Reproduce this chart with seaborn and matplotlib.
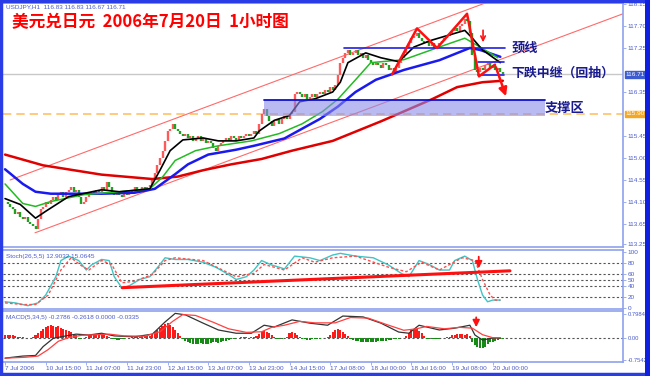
import numpy as np
import matplotlib
matplotlib.use("Agg")
import matplotlib.pyplot as plt
from matplotlib.patches import Rectangle
import seaborn as sns

# ===================== price data (USDJPY H1 closes) =====================
closes = [
    114.1, 114.05, 114.0, 113.95, 113.85, 113.9, 113.8, 113.75, 113.8, 113.7, 113.65, 113.6, 113.55,
    113.75, 113.95, 114.0, 114.1, 114.05, 114.15, 114.2, 114.15, 114.25, 114.3, 114.2, 114.3,
    114.35, 114.4, 114.3, 114.35, 114.2, 114.05, 114.1, 114.2, 114.25, 114.3, 114.25, 114.35, 114.3, 114.4, 114.35, 114.5,
    114.4, 114.3, 114.25, 114.3, 114.25, 114.2, 114.3, 114.25, 114.35, 114.3, 114.4, 114.35, 114.3, 114.4, 114.35, 114.4, 114.45,
    114.55, 114.7, 114.85, 115.0, 115.15, 115.35, 115.55, 115.6, 115.7, 115.6, 115.55,
    115.5, 115.45, 115.5, 115.4, 115.45, 115.35, 115.4, 115.45, 115.35, 115.4, 115.3, 115.35, 115.3, 115.2, 115.15, 115.25,
    115.3, 115.35, 115.4, 115.35, 115.45, 115.4, 115.35, 115.45, 115.4, 115.45, 115.5, 115.45, 115.5, 115.55, 115.5,
    115.7, 115.9, 116.0, 115.85, 115.75, 115.65, 115.75, 115.8, 115.7, 115.8, 115.85, 115.8, 115.9, 115.95,
    116.3, 116.35, 116.3, 116.25, 116.3, 116.2, 116.25, 116.3, 116.25, 116.3, 116.35, 116.3, 116.4, 116.35, 116.45, 116.4, 116.5,
    116.7, 116.95, 117.05, 117.15, 117.2, 117.1, 117.15, 117.2, 117.1, 117.15, 117.05, 117.1, 117.0, 116.95, 116.9,
    116.95, 116.9, 116.85, 116.95, 116.9, 116.8, 116.85, 116.75, 116.85, 116.95,
    117.05, 117.15, 117.25, 117.35, 117.45, 117.5, 117.55, 117.45, 117.4, 117.35,
    117.4, 117.3, 117.35, 117.25, 117.3, 117.35, 117.4, 117.45, 117.5,
    117.55, 117.6, 117.65, 117.6, 117.7, 117.75, 117.85, 117.8, 117.55,
    117.1, 116.8, 116.75, 116.85, 116.8, 116.9, 116.95, 116.85, 116.9, 116.8, 116.85, 116.75, 116.71,
]

# moving averages (bar index, value)
ma_black_x = [0, 6, 12, 16, 25, 38, 45, 57, 61, 65, 70, 78, 84, 91, 98, 100, 106, 112, 116, 122,
              129, 132, 135, 142, 148, 155, 161, 168, 181, 184, 188, 195]
ma_black_y = [114.17, 114.05, 113.77, 113.91, 114.21, 114.35, 114.31, 114.37, 114.75, 115.15,
              115.37, 115.41, 115.35, 115.35, 115.41, 115.55, 115.77, 115.87, 116.15, 116.21,
              116.35, 116.55, 116.95, 117.15, 117.05, 116.97, 117.27, 117.41, 117.61, 117.45, 117.21, 116.95]
ma_green_x = [0, 7, 12, 18, 31, 45, 57, 62, 67, 75, 84, 97, 108, 117, 125, 131, 138, 144, 157, 171, 181, 187, 194]
ma_green_y = [114.47, 114.07, 114.01, 114.11, 114.25, 114.31, 114.37, 114.61, 114.95, 115.15, 115.25, 115.35,
              115.5, 115.7, 115.95, 116.2, 116.6, 116.95, 117.01, 117.27, 117.45, 117.27, 117.05]
ma_blue_x = [0, 7, 12, 18, 38, 51, 59, 67, 72, 80, 91, 98, 110, 124, 131, 138, 146, 157, 171, 183, 187, 195]
ma_blue_y = [114.77, 114.47, 114.31, 114.27, 114.27, 114.29, 114.37, 114.67, 114.87, 115.07, 115.17, 115.25,
             115.4, 115.8, 116.05, 116.35, 116.6, 116.8, 117.0, 117.25, 117.21, 117.07]
ma_red_x = [0, 15, 38, 58, 68, 78, 89, 101, 113, 129, 148, 168, 178, 188, 196]
ma_red_y = [115.07, 114.85, 114.66, 114.57, 114.62, 114.75, 114.87, 114.98, 115.15, 115.35, 115.75,
            116.2, 116.45, 116.55, 116.58]

# stochastic (26,5,5)
stoch_x = [0, 4, 9, 13, 16, 20, 22, 25, 29, 32, 34, 38, 41, 43, 46, 49, 53, 57, 61, 63, 67, 72, 78, 83, 88,
           91, 95, 98, 101, 105, 108, 110, 114, 120, 124, 129, 132, 138, 145, 151, 156, 159, 163, 167, 171,
           175, 177, 181, 184, 186, 188, 190, 192, 195]
stoch_main = [11, 9, 4, 9, 23, 56, 85, 93, 85, 68, 77, 87, 85, 56, 36, 40, 51, 56, 78, 90, 87, 87, 82, 73, 60,
              51, 56, 68, 85, 77, 73, 70, 93, 90, 85, 95, 98, 93, 90, 77, 62, 56, 85, 78, 68,
              68, 85, 93, 85, 51, 23, 11, 14, 14]
signal_x = [0, 7, 12, 17, 22, 26, 30, 33, 38, 42, 46, 51, 58, 63, 67, 78, 91, 98, 102, 110, 117, 122, 129,
            138, 151, 158, 164, 171, 180, 185, 188, 191, 193, 195]
stoch_signal = [9, 6, 6, 23, 68, 90, 76, 68, 85, 78, 45, 48, 60, 85, 90, 85, 56, 62, 78, 68, 90, 82, 90,
                93, 73, 65, 82, 68, 90, 85, 51, 23, 14, 14]
stoch_levels = [20, 40, 50, 60, 80]

# MACD (5,34,5)
macd_x = [0, 7, 12, 15, 19, 22, 28, 33, 38, 43, 51, 58, 63, 67, 71, 78, 84, 91, 97, 102, 106, 113, 120, 127,
          133, 141, 148, 155, 159, 163, 171, 177, 183, 185, 188, 192, 195]
macd_main = [-0.69, -0.62, -0.6, -0.3, -0.02, 0.03, 0.12, 0.09, 0.15, 0.06, 0.03, 0.12, 0.53, 0.82, 0.77,
             0.49, 0.26, 0.15, 0.15, 0.42, 0.36, 0.6, 0.49, 0.42, 0.73, 0.70, 0.49, 0.19, 0.15, 0.42,
             0.26, 0.32, 0.42, 0.09, -0.08, -0.01, -0.01]
macd_sig_x = [0, 8, 13, 17, 21, 25, 30, 36, 41, 47, 55, 61, 66, 70, 75, 82, 88, 95, 101, 105, 110, 116, 122,
              130, 136, 143, 150, 157, 162, 166, 173, 179, 184, 188, 192, 195]
macd_signal = [-0.69, -0.66, -0.62, -0.4, -0.12, 0.0, 0.08, 0.1, 0.12, 0.06, 0.05, 0.2, 0.55, 0.78, 0.75,
               0.52, 0.3, 0.18, 0.2, 0.35, 0.42, 0.55, 0.5, 0.5, 0.68, 0.66, 0.45, 0.25, 0.3, 0.38,
               0.3, 0.35, 0.32, 0.1, 0.0, 0.0]
macd_hist = [
    0.1, 0.1, 0.09, 0.08, 0.06, 0.04,
    0.02, 0.01, -0.01, -0.02, -0.01, 0.02,
    0.08, 0.15, 0.22, 0.3, 0.36, 0.4, 0.42, 0.38, 0.36, 0.4, 0.33, 0.3, 0.26, 0.22, 0.18, 0.14, 0.08,
    -0.03, -0.05, -0.02,
    0.04, 0.08, 0.1, 0.12, 0.13, 0.12, 0.1, 0.08, 0.06, 0.03,
    -0.03, -0.06, -0.08, -0.07, -0.05, -0.04, -0.02, 0.0,
    0.02, 0.03, 0.05, 0.04, 0.05, 0.06, 0.05, 0.07,
    0.12, 0.18, 0.25, 0.33, 0.4, 0.46, 0.48, 0.44, 0.36, 0.25, 0.15, 0.05,
    -0.05, -0.1, -0.14, -0.17, -0.2, -0.22, -0.2, -0.18, -0.2, -0.22, -0.2, -0.17, -0.15, -0.16, -0.18,
    -0.15, -0.12, -0.1, -0.08, -0.05,
    -0.03, -0.02, 0.0, 0.01, 0.02, 0.01, 0.0, 0.02, 0.03, 0.05,
    0.12, 0.2, 0.22, 0.2, 0.15, 0.1, 0.03,
    -0.03, -0.06, -0.05, -0.02, 0.02,
    0.15, 0.2, 0.17, 0.1, 0.03,
    -0.03, -0.06, -0.08, -0.07, -0.05, -0.06, -0.04, -0.03, -0.02, 0.0, 0.03, 0.08,
    0.18, 0.25, 0.3, 0.26, 0.2, 0.12, 0.05,
    -0.03, -0.07, -0.1, -0.12, -0.14, -0.15, -0.16, -0.15, -0.14, -0.15, -0.13, -0.12, -0.1, -0.12, -0.1,
    -0.08, -0.07, -0.06, -0.05, -0.04, -0.02, 0.0, 0.05,
    0.15, 0.25, 0.3, 0.28, 0.22, 0.15, 0.06,
    -0.03, -0.05, -0.06, -0.05, -0.04, -0.03, -0.02, 0.0, 0.02, 0.04,
    0.08, 0.1, 0.12, 0.13, 0.12, 0.1, 0.14, 0.06,
    -0.15, -0.25, -0.32, -0.35, -0.34, -0.3, -0.22, -0.16,
    -0.15, -0.1, -0.07, -0.05, -0.03,
]

# time axis
time_ticks = [0, 16, 32, 48, 64, 80, 96, 112, 128, 144, 160, 176, 192]
time_labels = ["7 Jul 2006", "10 Jul 15:00", "11 Jul 07:00", "11 Jul 23:00", "12 Jul 15:00",
               "13 Jul 07:00", "13 Jul 23:00", "14 Jul 15:00", "17 Jul 08:00", "18 Jul 00:00",
               "18 Jul 16:00", "19 Jul 08:00", "20 Jul 00:00"]
price_ticks = [113.25, 113.65, 114.10, 114.55, 115.00, 115.45, 116.35, 117.25, 117.70, 118.15]

# annotations drawn on the chart (bar index, price)
zigzag_x = [152.4, 162.2, 170.1, 181.9, 186.6, 192.9]
zigzag_y = [116.71, 117.65, 117.25, 117.95, 116.67, 116.91]
target_xy = (197.6, 116.21)
neck_x, neck_y = [133.5, 196.9], 117.25
flag_x, flag_y = [186.2, 196.5], [116.97, 116.69]
support_x, support_y = [102.0, 212.6], [115.85, 116.19]
channel_start = [(2.0, 114.55), (11.8, 113.47)]
channel_slope = 0.01935
last_price, pivot_price = 116.71, 115.90
stoch_trend = [(46.1, 36.3), (198.8, 66.6)]

# ===================== figure =====================
sns.set_theme(style="white")
plt.rcParams['font.family'] = ['Liberation Sans', 'DejaVu Sans']
CJK = ['Noto Sans CJK SC', 'DejaVu Sans']

W, H = 650, 376
fig = plt.figure(figsize=(6.5, 3.76), dpi=100)
fig.patch.set_facecolor('white')


def pbox(x0, y0, x1, y1):
    return [x0 / W, 1 - y1 / H, (x1 - x0) / W, (y1 - y0) / H]


AXC = '#8FA2EC'
LBL = '#4C5CC8'
XL = (-0.8, 243.3)
FS = 4.6


def style(ax):
    ax.set_facecolor('white')
    ax.set_xlim(*XL)
    ax.spines['left'].set_visible(False)
    for s in ['top', 'bottom', 'right']:
        ax.spines[s].set_color(AXC)
        ax.spines[s].set_linewidth(1.2)
    ax.yaxis.tick_right()
    ax.tick_params(axis='y', length=2, width=0.6, colors=AXC, labelcolor=LBL, labelsize=FS, pad=1.2)
    ax.tick_params(axis='x', bottom=False, labelbottom=False)
    ax.grid(False)


ax = fig.add_axes(pbox(3, 3, 623, 247))
ax_s = fig.add_axes(pbox(3, 250, 623, 309))
ax_m = fig.add_axes(pbox(3, 311, 623, 362))
for a in (ax, ax_s, ax_m):
    style(a)

# ---------------- main panel ----------------
ax.set_ylim(113.18, 118.17)
ax.set_yticks(price_ticks)
ax.set_yticklabels([f"{v:.2f}" for v in price_ticks])

ax.axhline(last_price, color='#C8C8C8', lw=1, zorder=1)
ax.axhline(pivot_price, color='#FFC266', lw=1.2, ls=(0, (5, 3)), zorder=1)

# support zone
ax.add_patch(Rectangle((support_x[0], support_y[0]), support_x[1] - support_x[0],
                       support_y[1] - support_y[0], facecolor='#8C8CEB', alpha=0.6,
                       edgecolor='none', zorder=5))
ax.plot(support_x, [support_y[1]] * 2, color='#1010D0', lw=1.3, zorder=6)

# channel lines
for x0, y0 in channel_start:
    xs = np.array([x0, XL[1]])
    ax.plot(xs, y0 + channel_slope * (xs - x0), color='#FF6A6A', lw=0.8, zorder=2)

# candles
c = np.array(closes)
o = np.r_[c[0], c[:-1]]
xi = np.arange(len(c))
up = c >= o
ax.vlines(xi[up], o[up], c[up], color='#FF5A5A', lw=1.7, zorder=3)
ax.vlines(xi[~up], o[~up], c[~up], color='#22A022', lw=1.7, zorder=3)

sns.lineplot(x=ma_red_x, y=ma_red_y, ax=ax, color='#E00000', lw=1.8, zorder=4)
sns.lineplot(x=ma_blue_x, y=ma_blue_y, ax=ax, color='#1A1AF0', lw=1.8, zorder=4)
sns.lineplot(x=ma_green_x, y=ma_green_y, ax=ax, color='#22BB22', lw=1.1, zorder=4)
sns.lineplot(x=ma_black_x, y=ma_black_y, ax=ax, color='black', lw=1.2, zorder=4)

# pattern drawing
ax.plot(neck_x, [neck_y] * 2, color='#2020E0', lw=1.2, zorder=6)
for fy in flag_y:
    ax.plot(flag_x, [fy] * 2, color='#2020E0', lw=1.2, zorder=6)
ax.plot(zigzag_x, zigzag_y, color='#FF1010', lw=1.8, zorder=7)
ax.annotate('', xy=target_xy, xytext=(zigzag_x[-1], zigzag_y[-1]),
            arrowprops=dict(arrowstyle='-|>', color='#FF1010', lw=1.8, mutation_scale=12), zorder=7)
ax.annotate('', xy=(188.2, 117.31), xytext=(188.2, 117.67),
            arrowprops=dict(arrowstyle='->', color='#FF1010', lw=1.2, mutation_scale=8), zorder=7)

ax.text(0.005, 0.995, "USDJPY,H1  116.83 116.83 116.67 116.71", transform=ax.transAxes,
        fontsize=FS, color=LBL, va='top', ha='left')
ax.text(199.5, 117.25, "颈线", family=CJK, fontsize=9.5, color='#1A1A90', fontweight='bold', va='center')
ax.text(199.5, 116.74, "下跌中继（回抽）", family=CJK, fontsize=9.3, color='#1A1A90', fontweight='bold',
        va='center')
ax.text(212.5, 116.02, "支撑区", family=CJK, fontsize=9.5, color='#1A1A90', fontweight='bold', va='center')

for val, fc in ((last_price, '#3C5CD0'), (pivot_price, '#F5A623')):
    ax.text(1.004, val, f"{val:.2f}", transform=ax.get_yaxis_transform(), fontsize=FS,
            color='white', va='center', ha='left',
            bbox=dict(boxstyle='square,pad=0.15', facecolor=fc, edgecolor=fc))

fig.text(12 / W, 1 - 22 / H, "美元兑日元  2006年7月20日  1小时图", family=CJK, fontsize=12,
         fontweight='bold', color='#FF0000', va='center', ha='left')

# ---------------- stochastic ----------------
ax_s.set_ylim(-2, 104)
ax_s.set_yticks([0, 20, 40, 50, 60, 80, 100])
for lv in stoch_levels:
    ax_s.axhline(lv, color='#555555', lw=0.8, ls=(0, (2, 2)), zorder=1)
sns.lineplot(x=stoch_x, y=stoch_main, ax=ax_s, color='#40C4C4', lw=1.0, zorder=3)
sns.lineplot(x=signal_x, y=stoch_signal, ax=ax_s, color='#FF5050', lw=1.0, ls=(0, (2, 1.5)), zorder=3)
ax_s.plot([p[0] for p in stoch_trend], [p[1] for p in stoch_trend], color='#FF1010', lw=2.2, zorder=4)
ax_s.annotate('', xy=(186.5, 66), xytext=(186.5, 97),
              arrowprops=dict(arrowstyle='-|>', color='#FF1010', lw=1.3, mutation_scale=10), zorder=5)
ax_s.text(0.005, 0.93, "Stoch(26,5,5) 12.9032 15.0645", transform=ax_s.transAxes,
          fontsize=FS, color=LBL, va='top', ha='left')

# ---------------- MACD ----------------
ax_m.set_ylim(-0.82, 0.90)
ax_m.set_yticks([-0.7542, 0.0, 0.7984])
ax_m.set_yticklabels(['-0.7542', '0.00', '0.7984'])
ax_m.axhline(0, color='#555555', lw=0.8, ls=(0, (2, 2)), zorder=1)
h = np.array(macd_hist)
hx = np.arange(len(h))
ax_m.bar(hx, h, width=0.8, color=np.where(h >= 0, '#FF1A1A', '#168C16'), linewidth=0,
         edgecolor='none', zorder=2)
sns.lineplot(x=macd_x, y=macd_main, ax=ax_m, color='#333333', lw=0.9, zorder=3)
sns.lineplot(x=macd_sig_x, y=macd_signal, ax=ax_m, color='#FF4040', lw=0.9, zorder=3)
ax_m.annotate('', xy=(185.5, 0.26), xytext=(185.5, 0.78),
              arrowprops=dict(arrowstyle='-|>', color='#FF1010', lw=1.3, mutation_scale=10), zorder=5)
ax_m.text(0.005, 0.93, "MACD(5,34,5) -0.2786 -0.2618 0.0000 -0.0335", transform=ax_m.transAxes,
          fontsize=FS, color=LBL, va='top', ha='left')

ax_m.set_xticks(time_ticks)
ax_m.set_xticklabels(time_labels)
ax_m.tick_params(axis='x', bottom=True, labelbottom=True, length=2, width=0.6, colors=AXC,
                 labelcolor=LBL, labelsize=FS, pad=1)
for lab in ax_m.get_xticklabels():
    lab.set_ha('left')
for lab in ax_m.get_yticklabels():
    lab.set_fontsize(4.2)

for a in (ax, ax_s, ax_m):
    a.set_xlabel('')
    a.set_ylabel('')

# outer frame
fig.patches.append(Rectangle((0.002, 0.004), 0.996, 0.993, transform=fig.transFigure, fill=False,
                             edgecolor='#2A3CE6', lw=2.5))
fig.patches.append(Rectangle((645 / W, 0), 5 / W, 1, transform=fig.transFigure,
                             facecolor='#1020E0', edgecolor='none'))

fig.savefig("out.png", dpi=100)
